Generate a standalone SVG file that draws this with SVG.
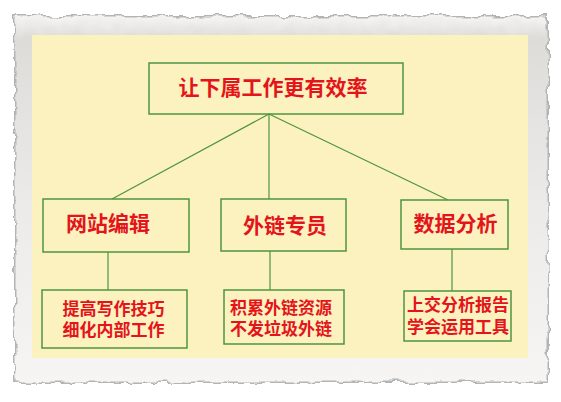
<svg xmlns="http://www.w3.org/2000/svg" width="561" height="402" viewBox="0 0 561 402">
<defs>
<filter id="rough" x="-5%" y="-5%" width="110%" height="110%">
<feTurbulence type="fractalNoise" baseFrequency="0.08" numOctaves="2" seed="3" result="n"/>
<feDisplacementMap in="SourceGraphic" in2="n" scale="8" xChannelSelector="R" yChannelSelector="G"/>
</filter>
<linearGradient id="paper" x1="0" y1="0" x2="0" y2="1">
<stop offset="0" stop-color="#f5f4f3"/>
<stop offset="0.06" stop-color="#dedcd9"/>
<stop offset="0.5" stop-color="#eceae8"/>
<stop offset="1" stop-color="#f6f5f4"/>
</linearGradient>
<style>
.box{fill:none;stroke:#4f9440;stroke-width:1.5}
.con{stroke:#4f9440;stroke-width:1.2;fill:none}
.t{font-family:"Noto Sans CJK SC","Noto Sans CJK JP",sans-serif;font-weight:bold;fill:#e4141b;text-anchor:middle}
.t1{font-size:21px}
.t3{font-size:17px}
</style>
</defs>
<rect width="561" height="402" fill="#ffffff"/>
<g id="frame">
<g filter="url(#rough)">
<rect x="14" y="15" width="535" height="368" fill="#b4b4b4"/>
<rect x="15.5" y="16.5" width="532" height="365" fill="url(#paper)"/>
</g>
<rect x="32" y="35" width="496" height="323" fill="#fbf2c0"/>
</g>
<g id="connectors">
<line class="con" x1="269" y1="114" x2="112" y2="199"/>
<line class="con" x1="269" y1="114" x2="269" y2="199"/>
<line class="con" x1="269" y1="114" x2="448" y2="200"/>
<line class="con" x1="108" y1="252" x2="108" y2="290"/>
<line class="con" x1="270" y1="251" x2="270" y2="290"/>
<line class="con" x1="452" y1="249" x2="452" y2="291"/>
</g>
<g id="root">
<rect class="box" x="149" y="63" width="254" height="51"/>
<text class="t t1" x="273" y="95">让下属工作更有效率</text>
</g>
<g id="web-editor">
<rect class="box" x="43" y="199" width="146" height="53"/>
<text class="t t1" x="108" y="231">网站编辑</text>
</g>
<g id="link-specialist">
<rect class="box" x="221" y="199" width="125" height="52"/>
<text class="t t1" x="285" y="233">外链专员</text>
</g>
<g id="data-analysis">
<rect class="box" x="401" y="200" width="107" height="49"/>
<text class="t t1" x="455.5" y="231">数据分析</text>
</g>
<g id="web-editor-tasks">
<rect class="box" x="42" y="290" width="145" height="58"/>
<text class="t t3" x="113.5" y="315">提高写作技巧</text>
<text class="t t3" x="113.5" y="336">细化内部工作</text>
</g>
<g id="link-tasks">
<rect class="box" x="224" y="290" width="120" height="54"/>
<text class="t t3" x="281" y="314">积累外链资源</text>
<text class="t t3" x="281" y="335">不发垃圾外链</text>
</g>
<g id="data-tasks">
<rect class="box" x="404" y="291" width="107" height="50"/>
<text class="t t3" x="458" y="311">上交分析报告</text>
<text class="t t3" x="458" y="333">学会运用工具</text>
</g>
</svg>
